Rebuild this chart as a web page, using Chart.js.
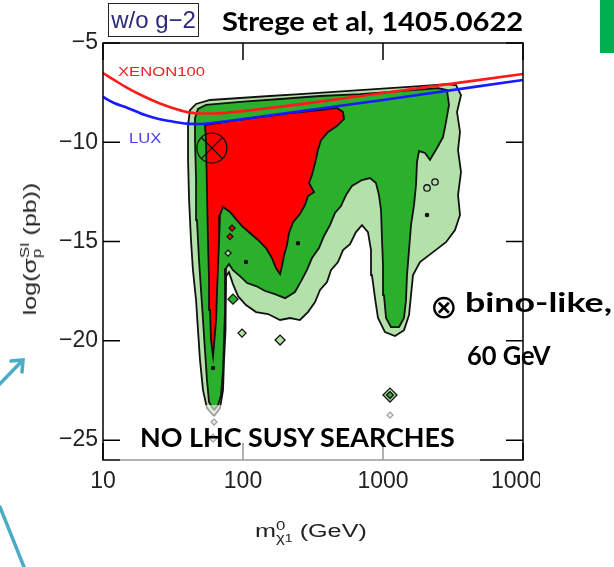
<!DOCTYPE html>
<html>
<head>
<meta charset="utf-8">
<script src="https://cdn.jsdelivr.net/npm/chart.js@4.4.1/dist/chart.umd.min.js"></script>
<style>
  body { margin: 0; width: 614px; height: 567px; position: relative; overflow: hidden; background: #fff;
         font-family: "Liberation Sans", Arial, sans-serif; color: #222; }
  #plotBox { position: absolute; left: 0; top: 0; width: 540px; height: 567px; overflow: hidden; }
  .txt { position: absolute; white-space: nowrap; line-height: 1; transform-origin: 0 0; transform: scaleX(var(--k, 1)); }
  .bold { font-family: Lato, "Open Sans", sans-serif; font-weight: 700; font-size: 27px; color: #000; }
  .sym { font-family: "DejaVu Sans", sans-serif; font-size: 33px; color: #000; }
  #tag { position: absolute; left: 108px; top: 3px; width: 89px; height: 32px; border: 1.5px solid #222;
         display: flex; align-items: center; justify-content: center; font-size: 24px; line-height: 1; color: #2c2a7c; }
  #veil { position: absolute; left: 120px; top: 405px; width: 360px; height: 58px; background: rgba(255,255,255,0.6); }
  .stk { display: inline-flex; flex-direction: column; vertical-align: middle; line-height: 1; }
  #ytitle { position: absolute; left: 31px; top: 249px; white-space: nowrap; font-size: 18px; line-height: 1;
            transform-origin: 0 0; transform: rotate(-90deg) scaleX(var(--k, 1)) translate(-50%, -50%); }
  #xtitle { font-size: 18px; }
  #greenTab { position: absolute; left: 600px; top: 0; width: 14px; height: 53px; background: #00b050; }
  svg { position: absolute; left: 0; top: 0; }
</style>
</head>
<body>
<div id="plotBox"><canvas id="chart" width="614" height="567"></canvas></div>

<div id="tag">w/o g&minus;2</div>
<div class="txt bold" style="left:222px; top:7px;" data-w="301">Strege et al, 1405.0622</div>
<div class="txt" style="left:118px; top:65px; font-size:13px; color:#f02020;" data-w="87">XENON100</div>
<div class="txt" style="left:129px; top:131px; font-size:14px; color:#4a3cf0;" data-w="32">LUX</div>

<div id="ytitle" data-w="132">log(&sigma;<span class="stk" style="font-size:12px;"><span>SI</span><span>p</span></span> (pb))</div>
<div id="xtitle" class="txt" style="left:255px; top:520px;" data-w="112">m<span class="stk" style="font-size:12px;"><span>0</span><span>&chi;<span style="font-size:10px;">1</span></span></span> (GeV)</div>

<div id="veil"></div>
<div class="txt bold" style="left:140px; top:423px;" data-w="315">NO LHC SUSY SEARCHES</div>
<div class="txt sym" style="left:430px; top:290px;">&otimes;</div>
<div class="txt bold" style="left:465px; top:288px;" data-w="147">bino-like,</div>
<div class="txt bold" style="left:467px; top:341px;" data-w="83">60 GeV</div>

<div id="greenTab"></div>
<svg width="614" height="567">
  <g stroke="#4bacc6" stroke-width="3.5" fill="none" stroke-linecap="round">
    <line x1="-5" y1="389" x2="22" y2="361"/>
    <polyline points="11,361 23,360 22,372"/>
    <line x1="0" y1="507" x2="24" y2="567"/>
  </g>
</svg>

<script>
// Axis ticks
const xTicks = [10, 100, 1000, 10000];
const yTicks = [-5, -10, -15, -20, -25];

// Direct detection limits: neutralino mass (GeV) vs log10 of sigma_SI (pb)
const limitMass = [10, 12, 15, 20, 25, 30, 40, 50, 60, 100, 1000, 10000];
const xenon100 = [-6.51, -6.86, -7.27, -7.72, -8.02, -8.22, -8.48, -8.55, -8.55, -8.43, -7.52, -6.56];
const lux = [-7.72, -8.02, -8.27, -8.63, -8.83, -8.93, -9.06, -9.08, -9.03, -8.83, -7.87, -6.86];

// Credible region outlines, [mass, log sigma]
const outerRegion = [[62.1,-23.79],[55.3,-23.39],[51.8,-22.48],[49.3,-20.97],[47.7,-19.46],[46.2,-17.95],[43.9,-16.44],
  [42.5,-14.92],[41.2,-12.91],[40.5,-10.89],[40.5,-9.13],[41.8,-8.38],[46.2,-8.07],[58.1,-7.87],[95.2,-7.77],[156,-7.67],
  [255,-7.57],[418,-7.47],[685,-7.37],[1122,-7.27],[1837,-7.17],[2818,-7.07],[3322,-7.12],[3607,-7.62],[3379,-8.48],
  [3548,-9.48],[3435,-10.39],[3607,-11.50],[3435,-12.66],[3548,-13.66],[3268,-14.42],[2818,-15.03],[2276,-15.53],
  [1837,-16.03],[1638,-16.69],[1585,-17.70],[1534,-18.70],[1413,-19.46],[1218,-19.76],[1033,-19.56],[921,-18.85],
  [877,-17.85],[834,-16.69],[821,-15.43],[781,-14.52],[708,-14.17],[641,-14.52],[581,-15.13],[518,-15.43],[477,-16.03],
  [425,-16.44],[398,-17.04],[355,-17.44],[327,-18.05],[291,-18.55],[255,-18.95],[217,-18.85],[184,-18.95],[151,-18.65],
  [124,-18.55],[105,-18.20],[92.1,-17.75],[84.8,-17.14],[79.4,-16.54],[75.6,-16.74],
  [75.6,-17.95],[74.4,-19.46],[73.2,-20.97],[72.0,-22.48],[68.5,-23.39],[62.1,-23.79]];

const innerRegion = [[62.1,-23.49],[57.2,-23.09],[55.3,-21.98],[53.5,-20.47],[51.8,-18.95],[50.1,-17.44],[48.5,-15.93],
  [46.9,-13.92],[46.2,-11.90],[45.4,-9.89],[45.4,-8.78],[47.7,-8.32],[54.4,-8.12],[95.2,-7.97],[184,-7.82],[355,-7.67],
  [685,-7.57],[1322,-7.42],[2472,-7.27],[2865,-7.37],[2961,-8.12],[2818,-8.98],[2683,-9.74],[2431,-10.29],[2166,-10.89],
  [1995,-10.54],[1808,-10.44],[1750,-10.99],[1721,-12.15],[1665,-13.16],[1585,-14.17],[1534,-15.43],[1484,-16.69],
  [1460,-17.95],[1413,-18.85],[1301,-19.31],[1141,-19.31],[1051,-18.85],[1016,-17.70],[1000,-16.18],[984,-14.92],
  [968,-13.41],[936,-12.66],[891,-12.05],[807,-11.80],[708,-11.90],[600,-12.20],[544,-12.66],[501,-13.21],[454,-13.56],
  [418,-14.17],[379,-14.72],[349,-15.33],[311,-15.83],[286,-16.44],[260,-16.99],[235,-17.54],[200,-17.85],[169,-17.65],
  [144,-17.49],[124,-17.24],[107,-17.09],[95.2,-16.74],[84.8,-16.44],[79.4,-16.13],[75.6,-16.34],
  [74.4,-18.45],[73.2,-19.96],[72.0,-21.47],[69.7,-22.73],[66.4,-23.24],[62.1,-23.49]];

const bestRegion = [[53.5,-9.13],[80.7,-8.93],[132,-8.73],[217,-8.53],[355,-8.38],[469,-8.27],[518,-8.48],[527,-8.83],
  [469,-9.18],[405,-9.48],[361,-9.89],[343,-10.39],[327,-11.05],[311,-11.65],[296,-12.05],[322,-12.51],[291,-12.71],
  [277,-13.16],[255,-13.61],[228,-14.02],[213,-14.57],[206,-15.18],[196,-15.73],[190,-16.23],[184,-16.64],[172,-16.34],
  [161,-15.83],[146,-15.33],[128,-14.92],[112,-14.57],[98.4,-14.22],[89.1,-13.87],[80.7,-13.51],[72.0,-13.26],[68.5,-13.66],
  [67.5,-14.92],[66.4,-16.18],[65.3,-17.44],[64.2,-18.95],[62.1,-20.21],[61.1,-20.77],[59.1,-19.96],[58.1,-18.45],
  [57.2,-16.94],[56.2,-14.92],[55.3,-12.41],[54.4,-9.89],[53.5,-9.13]];

// Isolated islands
const lightIslands = [[98.4,-19.61],[184,-19.96],[1122,-22.73],[1122,-23.74],[62.1,-24.09],[61.1,-24.90],[78.2,-15.58]];
const greenIslands = [[84.8,-17.90],[1122,-22.73]];
const redIslands = [[83.5,-14.32],[80.7,-14.75]];
const holes = [[247,-15.08],[105,-16.03],[61.1,-21.37],[2062,-13.66]];
const rings = [[2062,-12.30],[2352,-12.00]];

// Benchmark point
const bino = [[60, -10.29]];

const pts = arr => arr.map(([x, y]) => ({x, y}));
const curve = vals => limitMass.map((m, i) => ({x: m, y: vals[i]}));

const LIGHT = '#b4e1aa', GREEN = '#2bb02b', RED = '#ff0000', EDGE = '#111';

const region = (data, color, order) => ({
  data: pts(data), showLine: true, fill: 'shape', backgroundColor: color, borderColor: EDGE,
  borderWidth: 1.8, pointRadius: 0, tension: 0, order
});
const spots = (data, style, radius, bg, order, border = EDGE) => ({
  data: pts(data), showLine: false, pointStyle: style, pointRadius: radius, backgroundColor: bg,
  borderColor: border, borderWidth: 1.3, order
});

// Frame with inward ticks on all four sides
const frame = {
  id: 'frame',
  afterDatasetsDraw(chart) {
    const {ctx, chartArea: a, scales: {x, y}} = chart;
    ctx.save();
    ctx.strokeStyle = '#000';
    ctx.lineWidth = 1.5;
    ctx.strokeRect(a.left, a.top, a.right - a.left, a.bottom - a.top);
    ctx.beginPath();
    yTicks.forEach(v => {
      const py = y.getPixelForValue(v);
      ctx.moveTo(a.left, py); ctx.lineTo(a.left + 17, py);
      ctx.moveTo(a.right, py); ctx.lineTo(a.right - 17, py);
    });
    xTicks.forEach(v => {
      const px = x.getPixelForValue(v);
      ctx.moveTo(px, a.top); ctx.lineTo(px, a.top + 17);
      ctx.moveTo(px, a.bottom); ctx.lineTo(px, a.bottom - 17);
    });
    ctx.stroke();
    ctx.restore();
  }
};

const tickFont = {family: '"Liberation Sans", Arial, sans-serif', size: 23};

new Chart(document.getElementById('chart'), {
  type: 'scatter',
  data: {
    datasets: [
      {data: curve(xenon100), showLine: true, borderColor: '#ff1a1a', borderWidth: 2.6, pointRadius: 0,
       cubicInterpolationMode: 'monotone', order: 0},
      {data: curve(lux), showLine: true, borderColor: '#1a1aff', borderWidth: 2.6, pointRadius: 0,
       cubicInterpolationMode: 'monotone', order: 1},
      spots(bino, 'circle', 15, 'rgba(0,0,0,0)', 2),
      spots(bino, 'crossRot', 15, 'rgba(0,0,0,0)', 2),
      spots(holes, 'circle', 1.6, EDGE, 3),
      spots(rings, 'circle', 3.2, 'rgba(0,0,0,0)', 3),
      spots(redIslands, 'rectRot', 3, RED, 4),
      spots(greenIslands, 'rectRot', [5, 3.5], GREEN, 4),
      spots(lightIslands, 'rectRot', [4, 5, 7, 3, 3, 4, 3], LIGHT, 5),
      region(bestRegion, RED, 6),
      region(innerRegion, GREEN, 7),
      region(outerRegion, LIGHT, 8)
    ]
  },
  options: {
    responsive: false,
    animation: false,
    events: [],
    layout: {padding: {left: 0, top: 43, right: 91, bottom: 67}},
    plugins: {legend: {display: false}, tooltip: {enabled: false}},
    scales: {
      x: {
        type: 'logarithmic', min: 10, max: 10000,
        afterBuildTicks: s => { s.ticks = xTicks.map(v => ({value: v})); },
        afterFit: s => { s.height = 40; },
        grid: {display: false, drawTicks: false}, border: {display: false},
        ticks: {padding: 8, color: '#222', font: tickFont, maxRotation: 0, autoSkip: false, callback: v => String(v)}
      },
      y: {
        type: 'linear', min: -26, max: -5,
        afterBuildTicks: s => { s.ticks = yTicks.map(v => ({value: v})); },
        afterFit: s => { s.width = 103; },
        grid: {display: false, drawTicks: false}, border: {display: false},
        ticks: {padding: 5, color: '#222', font: tickFont, callback: v => '\u2212' + Math.abs(v)}
      }
    }
  },
  plugins: [frame]
});

// Stretch annotation text to its column width
document.querySelectorAll('[data-w]').forEach(el => {
  el.style.setProperty('--k', el.dataset.w / el.offsetWidth);
});
</script>
</body>
</html>
